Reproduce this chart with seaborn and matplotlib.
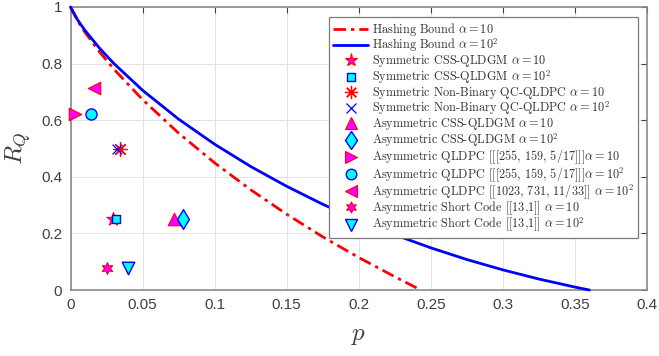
import matplotlib
matplotlib.use("Agg")
import matplotlib.pyplot as plt
import seaborn as sns
import pandas as pd
from matplotlib.lines import Line2D

# ---- data ----
p_hash10 = [0, 0.005, 0.01, 0.02, 0.03, 0.05, 0.075, 0.1, 0.125, 0.15, 0.175, 0.2, 0.225, 0.243]
r_hash10 = [1, 0.9505, 0.911, 0.8423, 0.7811, 0.6728, 0.5544, 0.4493, 0.3543, 0.2677, 0.1879, 0.1148, 0.047, 0.0]

p_hash100 = [0, 0.005, 0.01, 0.02, 0.03, 0.05, 0.075, 0.1, 0.125, 0.15, 0.175, 0.2, 0.225, 0.25,
             0.275, 0.3, 0.325, 0.35, 0.36]
r_hash100 = [1, 0.9538, 0.9176, 0.8554, 0.8008, 0.7057, 0.6038, 0.5151, 0.4365, 0.3664, 0.303,
             0.2463, 0.1951, 0.149, 0.1077, 0.0711, 0.0387, 0.0103, 0.0]

point_labels = [
    r"Symmetric CSS-QLDGM $\alpha = 10$",
    r"Symmetric CSS-QLDGM $\alpha = 10^2$",
    r"Symmetric Non-Binary QC-QLDPC $\alpha = 10$",
    r"Symmetric Non-Binary QC-QLDPC $\alpha = 10^2$",
    r"Asymmetric CSS-QLDGM $\alpha = 10$",
    r"Asymmetric CSS-QLDGM $\alpha = 10^2$",
    r"Asymmetric QLDPC [[[255, 159, 5/17]]]$\alpha = 10$",
    r"Asymmetric QLDPC [[[255, 159, 5/17]]]$\alpha = 10^2$",
    r"Asymmetric QLDPC [[1023, 731, 11/33]] $\alpha = 10^2$",
    r"Asymmetric Short Code [[13,1]] $\alpha = 10$",
    r"Asymmetric Short Code [[13,1]] $\alpha = 10^2$",
]
point_p = [0.0298, 0.0313, 0.0345, 0.0320, 0.0717, 0.0782, 0.0030, 0.0145, 0.0162, 0.0255, 0.0400]
point_r = [0.25, 0.25, 0.50, 0.50, 0.25, 0.25, 0.6235, 0.6235, 0.7146, 0.0769, 0.0769]

line_labels = [r"Hashing Bound $\alpha = 10$", r"Hashing Bound $\alpha = 10^2$"]

# ---- styles ----
MAG, CYA = "#ff00ff", "#00ffff"
styles = [
    dict(marker="*", ms=10, fc=MAG, ec="red", mew=0.8),
    dict(marker="s", ms=6, fc=CYA, ec="blue", mew=1.0),
    dict(marker=(8, 2, 0), ms=10, fc="red", ec="red", mew=0.9),
    dict(marker="x", ms=7, fc="blue", ec="blue", mew=0.9),
    dict(marker="^", ms=9, fc=MAG, ec="red", mew=0.8),
    dict(marker="d", ms=10, fc=CYA, ec="blue", mew=1.0),
    dict(marker=">", ms=9, fc=MAG, ec="red", mew=0.8),
    dict(marker="o", ms=8, fc=CYA, ec="blue", mew=1.0),
    dict(marker="<", ms=9, fc=MAG, ec="red", mew=0.8),
    dict(marker=(6, 1, 0), ms=8.5, fc=MAG, ec="red", mew=0.8),
    dict(marker="v", ms=9, fc=CYA, ec="blue", mew=1.0),
]
DASHDOT = (0, (4.5, 1.8, 1.2, 1.8))

sns.set_theme(style="white")
plt.rcParams["mathtext.fontset"] = "cm"
plt.rcParams["font.family"] = ["Liberation Sans", "DejaVu Sans"]

fig = plt.figure(figsize=(6.59, 3.56), dpi=100)
ax = fig.add_axes([70.5 / 659, 1 - 290 / 356, (647 - 70.5) / 659, (290 - 7) / 356])

df10 = pd.DataFrame({"p": p_hash10, "R": r_hash10})
df100 = pd.DataFrame({"p": p_hash100, "R": r_hash100})
sns.lineplot(data=df10, x="p", y="R", ax=ax, color="red", lw=2, linestyle=DASHDOT,
             clip_on=False, zorder=3)
sns.lineplot(data=df100, x="p", y="R", ax=ax, color="blue", lw=2, clip_on=False, zorder=3)

for i, st in enumerate(styles):
    sns.scatterplot(x=[point_p[i]], y=[point_r[i]], ax=ax, marker=st["marker"], s=st["ms"] ** 2,
                    color=st["fc"], edgecolor=st["ec"], linewidth=st["mew"], zorder=4, clip_on=False,
                    legend=False)

ax.set_xlim(0, 0.4)
ax.set_ylim(0, 1)
ax.set_xticks([0, 0.05, 0.1, 0.15, 0.2, 0.25, 0.3, 0.35, 0.4])
ax.set_xticklabels(["0", "0.05", "0.1", "0.15", "0.2", "0.25", "0.3", "0.35", "0.4"])
ax.set_yticks([0, 0.2, 0.4, 0.6, 0.8, 1])
ax.set_yticklabels(["0", "0.2", "0.4", "0.6", "0.8", "1"])
ax.grid(True, color="#e3e3e3", lw=0.7)
ax.tick_params(direction="in", length=4, width=0.8, color="#404040", labelsize=11,
               labelcolor="#404040", top=True, right=True, pad=6)
for s in ax.spines.values():
    s.set_color("#8a8a8a")
    s.set_linewidth(1.2)
ax.set_xlabel(r"$p$", fontsize=18, color="#404040", labelpad=8)
ax.set_ylabel(r"$R_Q$", fontsize=18, color="#404040", labelpad=6)

# legend
handles = [
    Line2D([], [], color="red", lw=2, linestyle=DASHDOT),
    Line2D([], [], color="blue", lw=2),
]
for st in styles:
    handles.append(Line2D([], [], linestyle="none", marker=st["marker"], markersize=st["ms"] * 0.95,
                          markerfacecolor=st["fc"], markeredgecolor=st["ec"], markeredgewidth=st["mew"]))
leg = ax.legend(handles, line_labels + point_labels, loc="upper right",
                bbox_to_anchor=(0.984, 0.965), borderaxespad=0, fancybox=False, framealpha=1,
                edgecolor="#7a7a7a", handlelength=2.9, handleheight=0.5, handletextpad=0.3,
                labelspacing=-0.1, borderpad=0.3,
                prop={"family": ["cmr10", "DejaVu Serif"], "size": 8.8})
leg.get_frame().set_linewidth(0.9)
for t in leg.get_texts():
    t.set_color("#333333")

fig.savefig("out.png", dpi=100)
